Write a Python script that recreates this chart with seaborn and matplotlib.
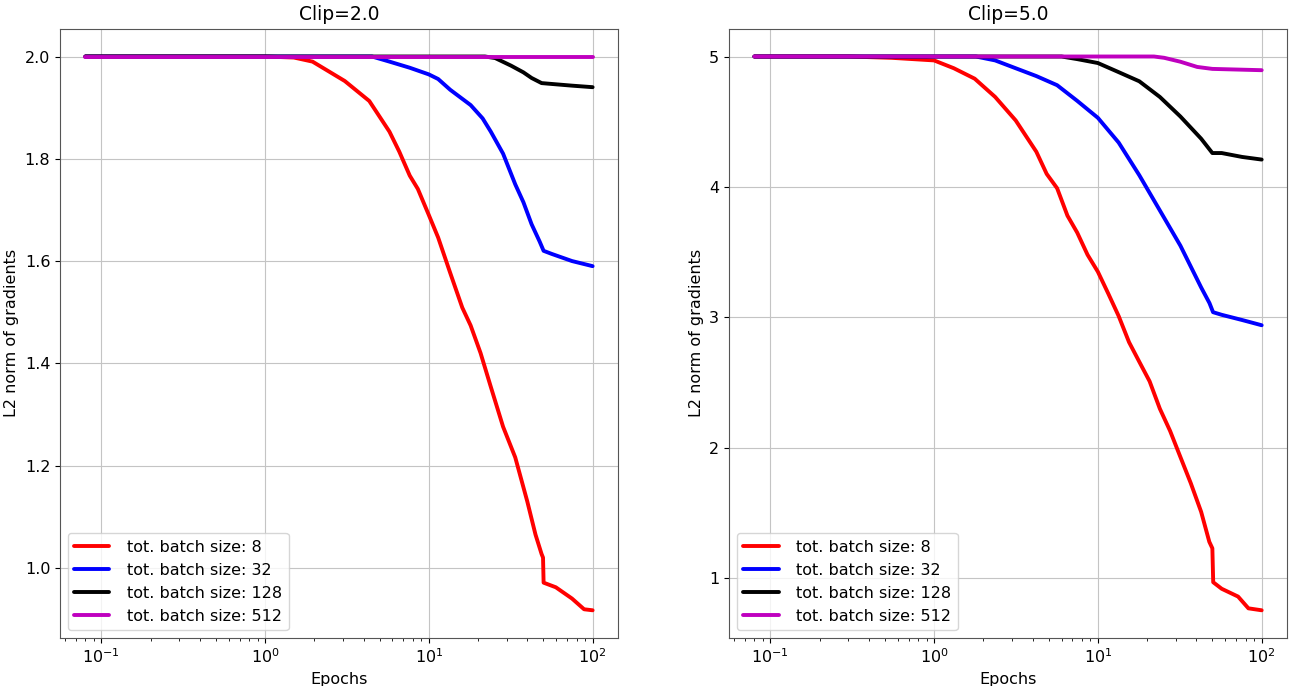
import numpy as np
import pandas as pd
import seaborn as sns
import matplotlib.pyplot as plt

labels = ["tot. batch size: 8", "tot. batch size: 32", "tot. batch size: 128", "tot. batch size: 512"]
colors = ["#ff0000", "#0000ff", "#000000", "#bf00bf"]

# Clip=2.0 panel (epochs, L2 norm)
c2_bs8_x = [0.08, 1.0, 1.5, 1.95, 3.07, 4.33, 5.75, 6.6, 7.65, 8.57, 10, 11.4, 13.5, 16, 18, 20.7, 23.9, 28.4, 33.7, 39.9, 44.8, 48.8, 49.8, 50.2, 59.6, 74.8, 88.7, 100]
c2_bs8_y = [2.0, 2.0, 1.998, 1.99, 1.952, 1.913, 1.853, 1.814, 1.767, 1.741, 1.69, 1.646, 1.577, 1.509, 1.474, 1.42, 1.354, 1.276, 1.216, 1.13, 1.065, 1.027, 1.02, 0.971, 0.962, 0.94, 0.919, 0.917]
c2_bs32_x = [0.08, 4.5, 5.75, 7.65, 10, 11.4, 13.5, 18, 21.3, 23.9, 28.4, 33.7, 37.8, 42.4, 47.5, 50.2, 56.2, 74.8, 100]
c2_bs32_y = [2.0, 2.0, 1.99, 1.978, 1.965, 1.956, 1.935, 1.905, 1.879, 1.853, 1.81, 1.75, 1.715, 1.672, 1.638, 1.62, 1.614, 1.6, 1.59]
c2_bs128_x = [0.08, 22, 25.4, 31.8, 37.8, 42.4, 48.8, 53, 74.8, 100]
c2_bs128_y = [2.0, 2.0, 1.997, 1.982, 1.969, 1.958, 1.948, 1.947, 1.943, 1.94]
c2_bs512_x = [0.08, 100]
c2_bs512_y = [2.0, 2.0]

# Clip=5.0 panel
c5_bs8_x = [0.08, 0.3, 0.55, 1.0, 1.32, 1.77, 2.36, 3.15, 4.21, 4.87, 5.64, 6.52, 7.48, 8.65, 10, 11.6, 13.4, 15.5, 17.9, 20.7, 23.9, 27.6, 31.9, 36.9, 42.7, 47.9, 50.0, 50.6, 57, 71.8, 83, 100]
c5_bs8_y = [5.0, 5.0, 4.99, 4.97, 4.91, 4.83, 4.69, 4.51, 4.27, 4.10, 3.99, 3.78, 3.65, 3.48, 3.35, 3.18, 3.01, 2.81, 2.66, 2.51, 2.30, 2.13, 1.93, 1.73, 1.51, 1.28, 1.23, 0.97, 0.92, 0.86, 0.77, 0.755]
c5_bs32_x = [0.08, 1.8, 2.36, 3.15, 4.21, 5.64, 7.48, 10, 13.4, 17.9, 23.9, 31.9, 42.7, 48, 50.5, 57, 76, 100]
c5_bs32_y = [5.0, 5.0, 4.97, 4.91, 4.85, 4.78, 4.66, 4.53, 4.34, 4.09, 3.82, 3.55, 3.23, 3.11, 3.04, 3.02, 2.98, 2.94]
c5_bs128_x = [0.08, 6.0, 7.48, 10, 13.4, 17.9, 23.9, 31.9, 42.7, 50, 57, 76, 100]
c5_bs128_y = [5.0, 5.0, 4.98, 4.95, 4.88, 4.81, 4.69, 4.54, 4.37, 4.26, 4.26, 4.23, 4.21]
c5_bs512_x = [0.08, 22, 25.4, 31.9, 40.4, 50, 100]
c5_bs512_y = [5.0, 5.0, 4.99, 4.96, 4.92, 4.905, 4.895]

panels = [
    ("Clip=2.0", [(c2_bs8_x, c2_bs8_y), (c2_bs32_x, c2_bs32_y), (c2_bs128_x, c2_bs128_y), (c2_bs512_x, c2_bs512_y)]),
    ("Clip=5.0", [(c5_bs8_x, c5_bs8_y), (c5_bs32_x, c5_bs32_y), (c5_bs128_x, c5_bs128_y), (c5_bs512_x, c5_bs512_y)]),
]

sns.set_style("ticks")
plt.rcParams['font.family'] = ['DejaVu Sans']
plt.rcParams.update({"text.color": "black", "axes.labelcolor": "black",
                     "xtick.color": "black", "ytick.color": "black"})

fig, axes = plt.subplots(1, 2, figsize=(12.9, 6.86), dpi=100)
fig.subplots_adjust(left=0.0465, right=0.9977, top=0.958, bottom=0.07, wspace=0.199)

palette = dict(zip(labels, colors))
for ax, (title, series) in zip(axes, panels):
    frames = []
    for lab, (xs, ys) in zip(labels, series):
        frames.append(pd.DataFrame({"Epochs": xs, "norm": ys, "series": lab}))
    df = pd.concat(frames, ignore_index=True)
    sns.lineplot(ax=ax, data=df, x="Epochs", y="norm", hue="series", hue_order=labels,
                 palette=palette, linewidth=2.8, estimator=None, sort=False)
    ax.set_xscale("log")
    ax.grid(True, which="major", color="#c4c4c4", linewidth=0.8)
    ax.set_title(title, fontsize=13.5)
    ax.set_xlabel("Epochs", fontsize=11.5)
    ax.set_ylabel("L2 norm of gradients", fontsize=11.5)
    ax.tick_params(labelsize=11.5)
    for s in ax.spines.values():
        s.set_color("#555555")
    sns.move_legend(ax, "lower left", title=None, fontsize=11.5, frameon=True,
                    handletextpad=1.1, handlelength=2.2)

axes[1].set_yticks([1, 2, 3, 4, 5])

fig.savefig("out.png", dpi=100)
